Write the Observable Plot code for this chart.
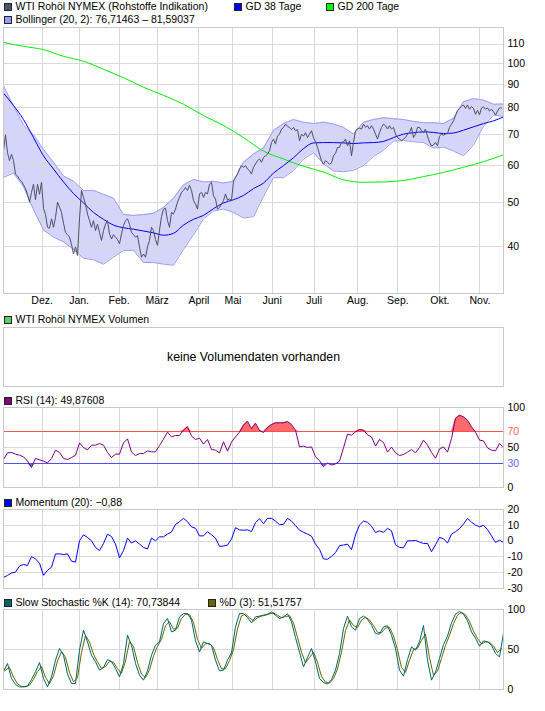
<!DOCTYPE html>
<html lang="de">
<head>
<meta charset="utf-8">
<script src="https://cdn.jsdelivr.net/npm/d3@7"></script>
<script src="https://cdn.jsdelivr.net/npm/@observablehq/plot@0.6"></script>
<style>
html,body{margin:0;padding:0;background:#fff;}
#chart{position:relative;width:545px;height:711px;overflow:hidden;font-family:"Liberation Sans",Arial,sans-serif;font-size:10.5px;color:#000;}
#chart svg{position:absolute;left:0;}
.leg{position:absolute;white-space:nowrap;height:12px;line-height:12px;}
.box{position:absolute;width:6px;height:6px;border:1px solid #222;}
</style>
</head>
<body>
<div id="chart"></div>
<script>
// ---------- data (trading-day index t) ----------
const monthLabels = ["Dez.","Jan.","Feb.","März","April","Mai","Juni","Juli","Aug.","Sep.","Okt.","Nov."];
const monthTicks = [19.3,37.8,57.8,76.8,97.7,114.7,134.3,155.3,177.2,197.2,218.2,238.2];
const priceTicks = [40,50,60,70,80,90,100,110];

// daily closes, t = 0..249
const price = [
64.6,70,64,61.5,63.5,61.5,57.5,57,56,55.5,
54.5,53.5,52,50,52.5,54.7,50.6,54.7,52,55.2,
48.5,47,44.1,43.9,46,44.1,46.3,50,48.8,47.5,
45,43,42.5,42,40.5,38.6,40,38.3,46,53,
51.2,49.5,47.1,45.6,44.1,45.6,43.4,44.8,43,41.3,
43.4,44.8,45.6,42.7,41.6,42.5,42,41.5,40.6,42.7,
44.5,45.6,46,44.8,43,42.5,42,42.3,40,38,
38.6,38,40,41.3,44.1,43.4,41.5,40.3,43.5,46.5,
48.3,48.5,45.6,44.1,47.5,47.1,48.3,50,51.2,52.5,
53,53.8,53,54.4,53,50.4,49.5,48.3,52.1,52.5,
51.2,52.5,52.1,54.7,55.2,51.6,50.8,48.3,48.7,49.5,
50.4,52.1,50.5,50.8,50.4,55.5,56.6,57.5,59,60,
59.5,60,59,58.5,57.5,59.5,60.5,61.5,62,61,
62.5,63,63.5,64.6,67.3,68.5,66.8,69.5,70.2,72,
72.5,73.8,73,72.5,71.8,72.6,71.4,71.8,67.9,70.2,
69.5,70.7,69,70.2,71.4,69,67.5,65.7,63.5,61.5,
60.4,61.5,61,60.4,60.8,63,63.8,65.7,65.7,67.4,
67.5,68.5,66.2,67.9,63,67.4,71.4,72,72.3,72,
73.8,72.6,73.2,72,73.2,72,70.2,68.5,70.7,72.6,
73.8,73.2,72,73.2,72,72.6,70.2,69,68.5,67.9,
68.5,69,70.2,70.7,72.6,69,70.2,72.6,72.6,71.4,
70.7,72,69.5,67.4,66.2,66.5,67.4,66.2,69.5,70.2,
69.8,70.2,70.4,72.6,73.8,75,77,79,79.8,80.6,
81.2,79.8,81.2,79.5,80.6,79.8,77.5,79,77.3,80,
80.5,79.5,80,78.8,79.5,78.5,77.2,78.8,80,80];

// every 5 trading days, t = 0..250
const bollUpper = [89.3,80.8,73.5,70,65,61,57,55.5,53,53,52,51,47,46.8,47,47.3,48.7,51,54.5,56,55.3,55.5,55,55.5,61,63.6,65.5,71.5,74,75.5,74.5,74,74.5,73.8,72.6,70.2,74.5,75.5,76.2,75.8,75.5,74.8,74.3,74.3,74,76,82.5,83.8,83.2,81.5,81.6];
const bollLower = [56.6,57.8,54,48.2,43.5,42,41,39.5,37.8,37.5,36.7,38,39.3,39.3,37,37,36.7,36.5,39.5,42.5,46,47.8,48.3,47.5,46.2,46.5,51.5,56.5,56.5,58.5,62,64,60.5,58.4,58.2,58.6,60,62.8,64.8,67.8,68,67.6,67.3,65.5,65.8,64.5,63,66.5,73,77.2,76.7];
const gd38 = [86.1,81,75.5,69,63,59,55.3,52.2,49.8,47.5,45.9,44.6,44,43.7,43.3,42.9,42.4,42.8,44.6,45.9,46.8,48.4,49.8,50.6,51.7,53.5,55,57.8,60,62.4,65.3,67.2,67.3,67.3,67.2,67,67.2,67.3,67.7,69,70.2,70.7,71,70.8,70.4,70.6,71.6,72.8,74,75,76.5];
// every 10 trading days, t = 0..250
const gd200 = [110.9,108.8,107,103.5,101,97,93,88.7,85.2,81.5,77,73.3,69,64.5,62,59.8,58.1,55.9,55.2,55.3,55.7,56.8,58,59.5,61.2,63.3];

// indicators every 2 trading days, t = 0..250
const rsi = [35,43.3,43.8,41.7,40.4,38.3,33,25,36.25,34.6,
32.9,30.8,36.25,46.7,43.8,36.25,35,37.5,40.4,55.8,
50,47,52.9,52.9,55,52.9,43.8,37.5,41.7,41.7,
55.8,60.8,44.2,40,42.5,42.5,45.8,44.6,44.6,52.5,
60.4,69.2,63.3,65,65,71.7,76,64.2,60,61.7,
54.2,60,47.5,46.7,43.3,57.1,45.4,56.7,63.3,69.2,
77.9,82.9,73.5,80.4,71.25,68.75,75,78.75,80.8,80.8,
80.8,82.5,78.75,71.7,50.8,51.7,50,50.8,38.3,33.75,
26,30.5,28,29.5,33,49.6,66.7,65.4,69.6,72.5,
71.7,65.8,63.3,51.7,60,56.25,44.2,50.4,43.3,40,
41.25,44.2,47.5,43.3,50,59.2,52.9,43.8,36.7,48.3,
50.8,44.2,61.25,86.3,90.4,88.3,84.2,75.8,69.2,59.2,
58.3,49.6,46.7,45.8,55,49.9];
const momentum = [-23,-21.7,-20.2,-19.6,-15.8,-14.8,-15.4,-9.8,-11.25,-14,
-21.7,-18.5,-16.5,-8.1,-8.1,-8.5,-8.1,-12.7,-13.3,0.2,
4,2.3,0.2,-4,-6,-1.5,4.4,2.9,-1.9,-10.6,
-6,1.9,-1.25,0.2,-1.9,-4,-5,1.9,0.2,2.7,
2.7,4.4,5.8,10.6,12.3,14.4,12.3,9,8.1,3.3,
3.3,6,4,1.9,-3.3,-3.1,-2.5,1.25,8.5,7.1,
6.9,7.1,6,11.7,14.2,11,14.4,14.4,12.7,10.4,
10.6,14.4,12.7,9.8,6.9,5.6,4.4,3.1,-1.9,-5.2,
-11.25,-11.5,-9.6,-7.3,-2.9,-2.5,-1.9,-5.4,4,10.2,
12.7,11.9,9.4,5.4,6.5,5.6,8.1,6.5,-2.3,-4,
-4.2,0.2,0.2,0.4,-0.6,-1.5,-1.5,-6.7,-2.3,2.3,
1.5,-1.25,4.4,6,7.9,10.8,14.4,11.9,10.2,9,
10,7.3,3.3,-0.8,0.6,-0.88];
const stochK = [22,32.5,13.75,6.25,3.3,3.3,4.2,12.5,22,33.75,
13.75,3.3,15.8,36.7,51.25,42.9,19.2,7.5,7.5,49.2,
74.2,59.6,42.9,34.6,24.2,27.5,37.5,35,26.25,15.8,
32.5,67.9,55.4,32.5,17.9,11.7,23.3,42.9,55.4,59.6,
82.5,88.75,72,74.2,90.8,95,95,86.7,60.8,47,
59.6,57.5,55.4,36.7,23.3,24.2,36.7,45.8,78.3,95,
95,90,83.3,90.8,91.7,92.9,94.2,96.7,92.9,88.75,
90.8,94.6,84.6,65,46.7,28.3,40,51.25,34.6,13.75,
8.75,6.7,12.5,24.2,45,76.25,91.7,78.3,74.2,88.75,
91.7,87.5,80.4,70,69.2,78.3,79.6,67.9,51.25,24.2,
16.7,37.5,53.3,49.2,59.6,80,36.7,11.7,22,38.75,
56.25,66.7,83.3,94.2,97.5,94.2,85.8,72,64.2,54.2,
60.8,59.6,55.4,45,40.8,70.74];
// %D read at t = 1,3,...,249
const stochD = [24,27.6,15.6,7,3.8,3.5,5.4,12.7,22.4,28.5,
15.3,7.1,17.2,35.6,47.4,40.3,21.2,9.5,14.5,46.4,
67.6,59.3,44.3,34.3,26.5,28.6,35.4,34,26,20.3,
35.6,59.9,53.7,33.9,19.3,14.7,24.6,41.7,54,62.7,
79.7,84.9,75.2,76.6,88.7,94.3,93.6,83.8,62.8,51.4,
57.2,57.5,52.6,37.6,25.7,26.1,36.1,49.7,75.7,92.2,
94.2,89.7,85.7,89.7,91.8,92.9,94.4,95.7,92.8,89.8,
91.1,92.3,83,65.2,46.7,33.3,39.9,46.6,33.9,16.4,
9.2,8,13.5,25.7,46.7,73.6,86.9,79.9,77.3,86.8,
90.5,87,79.9,71.6,70.9,77,77.4,67.1,49.5,27.5,
21.4,36.7,50,51.6,61.3,69.4,39.8,17.6,23.1,38.9,
55.1,67.7,82.4,92.9,96.4,93.4,84.9,73,63.8,57,
59.5,59.1,54.4,46,51.52];

const rsiTicksBlack = [0,50,100];
const rsiOverbought = 70, rsiOversold = 30;
const momTicks = [-30,-20,-10,0,10,20];
const stochTicks = [0,50,100];
const volumeMessage = "keine Volumendaten vorhanden";

const legendMain1 = [["WTI Rohöl NYMEX (Rohstoffe Indikation)","#4c566a",3],["GD 38 Tage","#0000ff",233],["GD 200 Tage","#00ff00",325]];
const legendMain2 = [["Bollinger (20, 2): 76,71463 – 81,59037","#9999ff",3]];
const legendVol = [["WTI Rohöl NYMEX Volumen","#66cc66",3]];
const legendRsi = [["RSI (14): 49,87608","#800080",3]];
const legendMom = [["Momentum (20): −0,88","#0000ff",3]];
const legendSto = [["Slow Stochastic %K (14): 70,73844","#006666",3],["%D (3): 51,51757","#666600",207]];

// ---------- build ----------
const chart = document.getElementById("chart");
const GRID = "#d9d9d9", FRAME = "#c8c8c8";
const crisp = {shapeRendering: "crispEdges"};
const base = {
  width: 545, marginLeft: 3, marginRight: 42,
  x: {domain: [0, 250], axis: null},
  style: {fontFamily: "Liberation Sans, Arial, sans-serif", fontSize: "10.5px", background: "transparent", overflow: "visible"}
};
function place(svg, top) { svg.style.top = top + "px"; chart.appendChild(svg); }
function legend(items, y) {
  for (const [text, color, x] of items) {
    const b = document.createElement("div");
    b.className = "box"; b.style.left = (x + 0.5) + "px"; b.style.top = (y - 3.5) + "px"; b.style.background = color;
    const t = document.createElement("div");
    t.className = "leg"; t.style.left = (x + 12.5) + "px"; t.style.top = (y - 6) + "px"; t.textContent = text;
    chart.appendChild(b); chart.appendChild(t);
  }
}
const monthGrid = () => Plot.ruleX(monthTicks, {stroke: GRID, ...crisp});
const yLabels = (ticks, extra = {}) => Plot.text(ticks, {y: d => d, frameAnchor: "right", dx: 4, textAnchor: "start", ...extra});

const priceData = price.map((v, i) => ({t: i, v}));
const bandData = bollUpper.map((hi, i) => ({t: i * 5, hi, lo: bollLower[i]}));
const gd38Data = gd38.map((v, i) => ({t: i * 5, v}));
const gd200Data = gd200.map((v, i) => ({t: i * 10, v}));
const rsiData = rsi.map((v, i) => ({t: i * 2, v}));
const rsiHigh = rsiData.map(d => ({t: d.t, a: rsiOverbought, b: Math.max(rsiOverbought, d.v)}));
const rsiLow = rsiData.map(d => ({t: d.t, a: Math.min(rsiOversold, d.v), b: rsiOversold}));
const momData = momentum.map((v, i) => ({t: i * 2, v}));
const kData = stochK.map((v, i) => ({t: i * 2, v}));
const dData = stochD.map((v, i) => ({t: i * 2 + 1, v}));

// main price panel
place(Plot.plot({
  ...base, height: 312, marginTop: 27, marginBottom: 19,
  y: {type: "log", domain: [31.7, 119.5], axis: null},
  marks: [
    Plot.areaY(bandData, {x: "t", y1: "lo", y2: "hi", fill: "#d5d5fb"}),
    monthGrid(),
    Plot.ruleY(priceTicks, {stroke: GRID, ...crisp}),
    Plot.line(bandData, {x: "t", y: "hi", stroke: "#9b9bf0", strokeWidth: 1}),
    Plot.line(bandData, {x: "t", y: "lo", stroke: "#9b9bf0", strokeWidth: 1}),
    Plot.line(gd200Data, {x: "t", y: "v", stroke: "#00ee00", strokeWidth: 1, curve: "monotone-x"}),
    Plot.line(gd38Data, {x: "t", y: "v", stroke: "#0000ee", strokeWidth: 1, curve: "monotone-x"}),
    Plot.line(priceData, {x: "t", y: "v", stroke: "#4b5264", strokeWidth: 1}),
    Plot.frame({stroke: FRAME, ...crisp}),
    yLabels(priceTicks),
    Plot.text(monthTicks, {x: d => d, frameAnchor: "bottom", dy: 10, text: (d, i) => monthLabels[i]})
  ]
}), 0);

// volume panel (empty)
place(Plot.plot({
  ...base, height: 70, marginTop: 7, marginBottom: 4,
  marks: [
    Plot.frame({stroke: FRAME, ...crisp}),
    Plot.text([volumeMessage], {frameAnchor: "middle", text: d => d, fontSize: 12.3})
  ]
}), 320);

// RSI panel
place(Plot.plot({
  ...base, height: 100, marginTop: 7, marginBottom: 13,
  y: {domain: [0, 100], axis: null},
  marks: [
    monthGrid(),
    Plot.ruleY([50], {stroke: GRID, ...crisp}),
    Plot.areaY(rsiHigh, {x: "t", y1: "a", y2: "b", fill: "#ff6b6b", stroke: "none"}),
    Plot.areaY(rsiLow, {x: "t", y1: "a", y2: "b", fill: "#6666ff", stroke: "none"}),
    Plot.ruleY([rsiOverbought], {stroke: "#ff5050", strokeWidth: 1.4, ...crisp}),
    Plot.ruleY([rsiOversold], {stroke: "#5050f0", strokeWidth: 1.4, ...crisp}),
    Plot.line(rsiData, {x: "t", y: "v", stroke: "#800080", strokeWidth: 1}),
    Plot.frame({stroke: FRAME, ...crisp}),
    yLabels(rsiTicksBlack),
    yLabels([rsiOverbought], {fill: "#ff6666"}),
    yLabels([rsiOversold], {fill: "#6666ff"})
  ]
}), 400);

// Momentum panel
place(Plot.plot({
  ...base, height: 100, marginTop: 9, marginBottom: 12,
  y: {domain: [-30, 20], axis: null},
  marks: [
    monthGrid(),
    Plot.ruleY([-20, -10, 0, 10], {stroke: GRID, ...crisp}),
    Plot.line(momData, {x: "t", y: "v", stroke: "#0000ff", strokeWidth: 1}),
    Plot.frame({stroke: FRAME, ...crisp}),
    yLabels(momTicks)
  ]
}), 500);

// Stochastic panel
place(Plot.plot({
  ...base, height: 100, marginTop: 8, marginBottom: 12,
  y: {domain: [0, 100], axis: null},
  marks: [
    monthGrid(),
    Plot.ruleY([50], {stroke: GRID, ...crisp}),
    Plot.line(dData, {x: "t", y: "v", stroke: "#666600", strokeWidth: 1}),
    Plot.line(kData, {x: "t", y: "v", stroke: "#006666", strokeWidth: 1}),
    Plot.frame({stroke: FRAME, ...crisp}),
    yLabels(stochTicks)
  ]
}), 601);

legend(legendMain1, 6);
legend(legendMain2, 19);
legend(legendVol, 319);
legend(legendRsi, 400);
legend(legendMom, 502);
legend(legendSto, 602);
</script>
</body>
</html>
